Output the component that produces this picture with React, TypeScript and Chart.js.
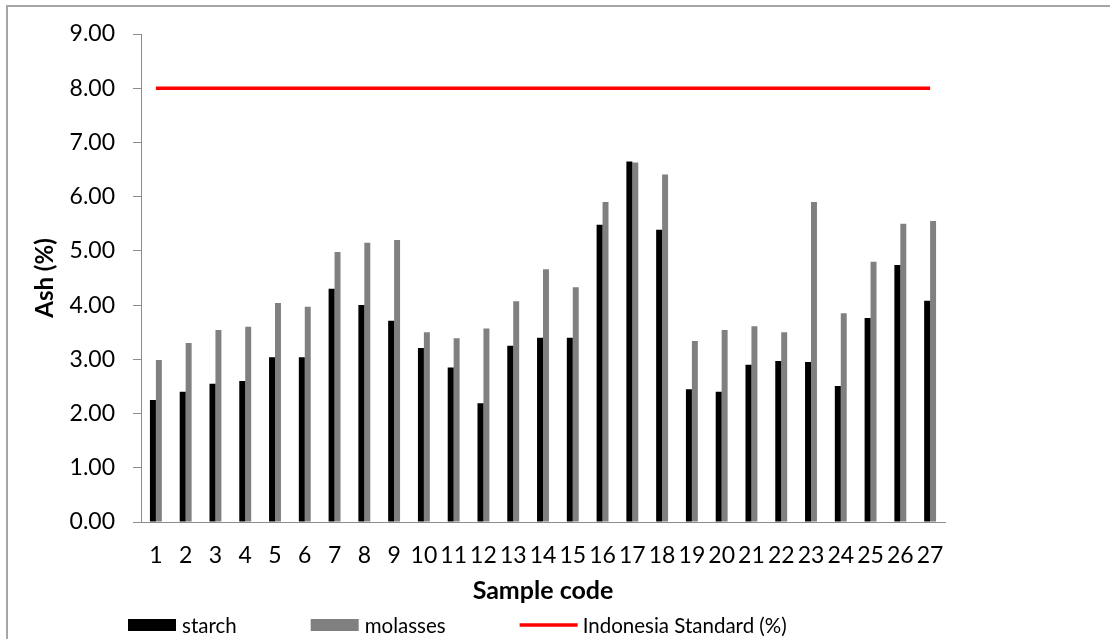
import React, { useEffect, useRef } from "react";
import { Chart, registerables } from "chart.js";

Chart.register(...registerables);

const categories = ["1","2","3","4","5","6","7","8","9","10","11","12","13","14","15","16","17","18","19","20","21","22","23","24","25","26","27"];
const starch = [2.25,2.40,2.55,2.60,3.04,3.04,4.30,4.00,3.71,3.21,2.85,2.19,3.25,3.40,3.40,5.48,6.65,5.39,2.45,2.40,2.90,2.97,2.95,2.51,3.76,4.74,4.08];
const molasses = [2.99,3.30,3.54,3.60,4.04,3.97,4.98,5.15,5.20,3.50,3.39,3.57,4.07,4.66,4.33,5.90,6.63,6.41,3.34,3.54,3.61,3.50,5.90,3.85,4.80,5.50,5.55];
const standard = categories.map(() => 8.0);
const yTicks = [0,1,2,3,4,5,6,7,8,9];

const FONT = "Lato, 'Open Sans', sans-serif";

const legendPlugin = {
  id: "customLegend",
  afterDraw(chart: any) {
    const ctx = chart.ctx;
    const ds = chart.data.datasets;
    const order = [1, 2, 0];
    const cy = 625;
    let x = 128;
    ctx.save();
    ctx.font = `20.5px ${FONT}`;
    ctx.textBaseline = "middle";
    ctx.textAlign = "left";
    order.forEach((i: number) => {
      const d = ds[i];
      if (d.type === "line") {
        const w = 58;
        ctx.strokeStyle = d.borderColor;
        ctx.lineWidth = 3.5;
        ctx.beginPath();
        ctx.moveTo(x, cy);
        ctx.lineTo(x + w, cy);
        ctx.stroke();
        x += w + 5;
      } else {
        const w = 48;
        ctx.fillStyle = d.backgroundColor;
        ctx.fillRect(x, cy - 6, w, 12);
        x += w + 6;
      }
      ctx.fillStyle = "#000";
      ctx.fillText(d.label, x, cy + 1);
      x += ctx.measureText(d.label).width + 74;
    });
    ctx.restore();
  },
};

export default function App() {
  const ref = useRef<HTMLCanvasElement | null>(null);
  useEffect(() => {
    if (!ref.current) return;
    Chart.defaults.color = "#000";
    const chart = new Chart(ref.current, {
      type: "bar",
      data: {
        labels: categories,
        datasets: [
          {
            type: "line",
            label: "Indonesia Standard (%)",
            data: standard,
            borderColor: "#ff0000",
            backgroundColor: "#ff0000",
            borderWidth: 3.5,
            pointRadius: 0,
            order: 0,
          } as any,
          {
            type: "bar",
            label: "starch",
            data: starch,
            backgroundColor: "#000000",
            categoryPercentage: 0.4,
            barPercentage: 1.0,
            order: 1,
          },
          {
            type: "bar",
            label: "molasses",
            data: molasses,
            backgroundColor: "#808080",
            categoryPercentage: 0.4,
            barPercentage: 1.0,
            order: 1,
          },
        ],
      },
      options: {
        responsive: false,
        animation: false,
        layout: { padding: { left: 0, top: 34, right: 165, bottom: 33 } },
        plugins: {
          legend: { display: false },
          tooltip: { enabled: false },
        },
        scales: {
          x: {
            grid: { display: false },
            border: { display: true, color: "#8c8c8c", width: 1 },
            ticks: { font: { family: FONT, size: 23 }, padding: 12, color: "#000", maxRotation: 0, autoSkip: false },
            title: {
              display: true,
              text: "Sample code",
              font: { family: FONT, size: 25, weight: "bold" },
              color: "#000",
              padding: { top: 0, bottom: 0 },
            },
            afterFit(scale: any) {
              scale.height = 84;
            },
          },
          y: {
            min: 0,
            max: 9,
            afterBuildTicks(scale: any) {
              scale.ticks = yTicks.map((v) => ({ value: v }));
            },
            grid: { display: true, drawOnChartArea: false, drawTicks: true, tickLength: 8, color: "#8c8c8c" },
            border: { display: true, color: "#8c8c8c", width: 1 },
            ticks: {
              font: { family: FONT, size: 23 },
              padding: 18,
              color: "#000",
              callback: (v: any) => Number(v).toFixed(2),
            },
            title: {
              display: true,
              text: "Ash (%)",
              font: { family: FONT, size: 24, weight: "bold" },
              color: "#000",
              padding: { top: 31, bottom: 0 },
            },
            afterFit(scale: any) {
              scale.width = 141;
            },
          },
        },
      },
      plugins: [legendPlugin],
    });
    return () => chart.destroy();
  }, []);

  return (
    <div style={{ position: "fixed", left: 0, top: 0, width: 1110, height: 639, overflow: "hidden", background: "#fff" }}>
      <div
        style={{
          position: "absolute",
          left: 6,
          top: 5,
          width: 1300,
          height: 900,
          border: "2px solid #a6a6a6",
          boxSizing: "border-box",
        }}
      />
      <canvas ref={ref} width={1110} height={639} style={{ position: "absolute", left: 0, top: 0 }} />
    </div>
  );
}
